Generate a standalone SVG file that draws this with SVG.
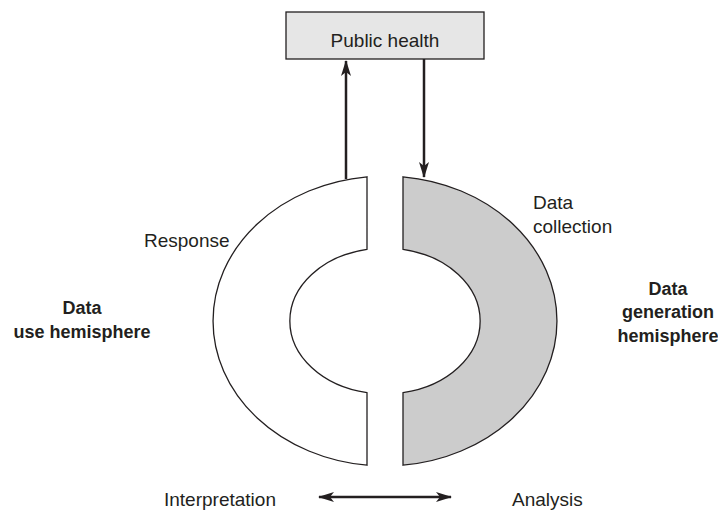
<svg xmlns="http://www.w3.org/2000/svg" width="718" height="512" viewBox="0 0 718 512">
<style>
.lbl{font-family:"Liberation Sans",Arial,sans-serif;font-size:19px;fill:#231f20}
.bold{font-family:"Liberation Sans",Arial,sans-serif;font-size:18px;font-weight:bold;fill:#231f20;text-anchor:middle}
.shape{stroke:#231f20;stroke-width:1.3;stroke-linejoin:miter}
.conn{stroke:#231f20;stroke-width:2.5;fill:none}
</style>
<defs>
<marker id="ah" markerUnits="userSpaceOnUse" markerWidth="16" markerHeight="12" refX="15" refY="5" orient="auto-start-reverse" viewBox="0 0 16 10">
<path d="M0,0 L16,5 L0,10 L4,5 Z" fill="#231f20"/>
</marker>
</defs>
<rect width="718" height="512" fill="#ffffff"/>
<g id="public-health">
<rect x="286" y="12" width="198" height="47" fill="#e6e6e6" class="shape"/>
<text class="lbl" x="385" y="47" text-anchor="middle">Public health</text>
</g>
<g id="data-use-hemisphere">
<path class="shape" fill="#ffffff" d="M367,176.8 A172,145 0 0 0 367,465.2 L367,392.7 A95,73 0 0 1 367,249.3 Z"/>
<text class="bold" x="82" y="314">Data</text>
<text class="bold" x="82" y="338">use hemisphere</text>
</g>
<g id="data-generation-hemisphere">
<path class="shape" fill="#cccccc" d="M403,176.8 A172,145 0 0 1 403,465.2 L403,392.7 A95,73 0 0 0 403,249.3 Z"/>
<text class="bold" x="668" y="295">Data</text>
<text class="bold" x="668" y="318">generation</text>
<text class="bold" x="668" y="342">hemisphere</text>
</g>
<g id="response"><text class="lbl" x="144" y="247">Response</text></g>
<g id="data-collection">
<text class="lbl" x="533" y="209">Data</text>
<text class="lbl" x="533" y="233">collection</text>
</g>
<g id="interpretation"><text class="lbl" x="164" y="506">Interpretation</text></g>
<g id="analysis"><text class="lbl" x="512" y="506">Analysis</text></g>
<g id="connectors">
<line class="conn" x1="346" y1="179" x2="346" y2="61" marker-end="url(#ah)"/>
<line class="conn" x1="424" y1="59" x2="424" y2="177" marker-end="url(#ah)"/>
<line class="conn" x1="319" y1="497" x2="451" y2="497" marker-start="url(#ah)" marker-end="url(#ah)"/>
</g>
</svg>
